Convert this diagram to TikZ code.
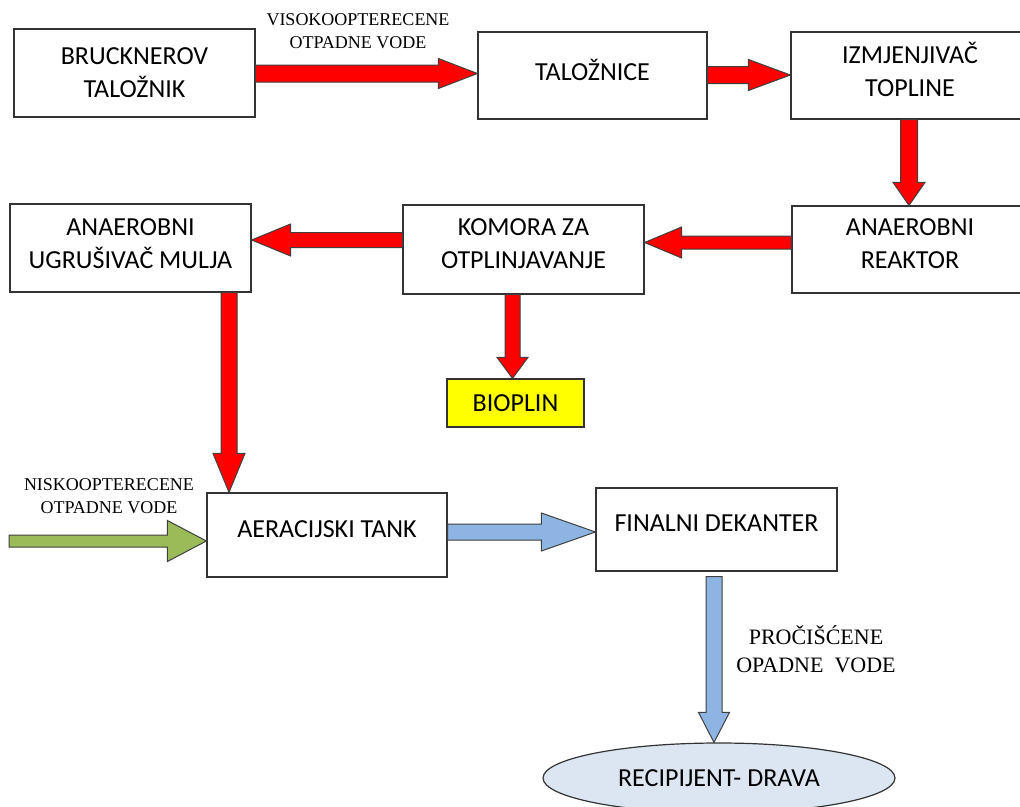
\documentclass[tikz,border=0pt]{standalone}
\usepackage{fontspec}
\setmainfont{Carlito}
\newfontfamily\seriffont{Liberation Serif}
\usetikzlibrary{calc,shapes.geometric}
\definecolor{redarrow}{HTML}{FF0000}
\definecolor{greenarrow}{HTML}{9BBB59}
\definecolor{bluearrow}{HTML}{8EB4E3}
\definecolor{recfill}{HTML}{DCE6F2}
\definecolor{biofill}{HTML}{FFFF00}
% horizontal fat arrow: from, to, y, shaft half, head half, head length (signed), fill, start offset
\newcommand\harrow[8]{%
  \coordinate (hs) at ($(#1 |- 0,#3)+(#8,0)$);
  \coordinate (ht) at (#2 |- 0,#3);
  \path[fat, fill=#7] ($(hs)+(0,#4)$) -- ($(ht)+({-(#6)},#4)$) -- ($(ht)+({-(#6)},#5)$) -- (ht)
     -- ($(ht)+({-(#6)},{-(#5)})$) -- ($(ht)+({-(#6)},{-(#4)})$) -- ($(hs)+(0,{-(#4)})$) -- cycle;
}
% vertical (downward) fat arrow: from, to, x, shaft half, head half, head length, fill, start offset
\newcommand\varrow[8]{%
  \coordinate (vs) at ($(#1 -| #3,0)+(0,{-(#8)})$);
  \coordinate (vt) at (#2 -| #3,0);
  \path[fat, fill=#7] ($(vs)+({-(#4)},0)$) -- ($(vt)+({-(#4)},#6)$) -- ($(vt)+({-(#5)},#6)$) -- (vt)
     -- ($(vt)+(#5,#6)$) -- ($(vt)+(#4,#6)$) -- ($(vs)+(#4,0)$) -- cycle;
}
\begin{document}
\begin{tikzpicture}[x=1pt,y=1pt,
  box/.style={draw=black!80, line width=1.2pt, fill=white, align=center,
    font=\fontsize{26}{33}\selectfont, inner sep=0pt},
  textup/.style={text depth=12pt},
  fat/.style={draw=black!75, line width=1pt, line join=miter},
  lbl/.style={font=\seriffont\fontsize{18}{23}\selectfont, align=center, inner sep=0pt},
]
\useasboundingbox (0,0) rectangle (1020,-806);
\clip (0,0) rectangle (1020,-806);
\fill[white] (0,0) rectangle (1020,-806);

% boxes
\node[box, minimum width=241pt, minimum height=88pt] (brk) at (134.5,-73) {BRUCKNEROV\\TALOŽNIK};
\node[box, textup, minimum width=229pt, minimum height=87pt] (tal) at (592.5,-75.5) {TALOŽNICE};
\node[box, textup, minimum width=238pt, minimum height=87pt] (izm) at (910,-75.5) {IZMJENJIVAČ\\TOPLINE};
\node[box, textup, minimum width=236pt, minimum height=87pt] (rea) at (910,-249.5) {ANAEROBNI\\REAKTOR};
\node[box, textup, minimum width=241pt, minimum height=89pt] (kom) at (523.5,-249.5) {KOMORA ZA\\OTPLINJAVANJE};
\node[box, text depth=8pt, minimum width=241pt, minimum height=88pt] (ugr) at (130.5,-248) {ANAEROBNI\\UGRUŠIVAČ MULJA};
\node[box, fill=biofill, minimum width=137pt, minimum height=48pt] (bio) at (515.5,-403) {BIOPLIN};
\node[box, textup, minimum width=240pt, minimum height=84pt] (aer) at (327,-535) {AERACIJSKI TANK};
\node[box, textup, minimum width=241pt, minimum height=83pt] (fin) at (716.5,-529.5) {FINALNI DEKANTER};
\node[box, ellipse, fill=recfill, minimum width=352pt, minimum height=70pt] (rec) at (719,-778) {RECIPIJENT- DRAVA};

% labels
\node[lbl] (vis) at (358,-31.5) {VISOKOOPTERECENE\\OTPADNE VODE};
\node[lbl] (nis) at (109,-496.5) {NISKOOPTERECENE\\OTPADNE VODE};
\node[lbl, font=\seriffont\fontsize{22}{28}\selectfont] (pro) at (816,-649) {PROČIŠĆENE\\OPADNE\ \ VODE};

% arrows
\harrow{brk.east}{tal.west}{-73.5}{8.5}{15}{39}{redarrow}{0}
\harrow{tal.east}{izm.west}{-75}{8.5}{15.5}{42}{redarrow}{0}
\varrow{izm.south}{rea.north}{909}{8.5}{16}{23}{redarrow}{0}
\harrow{rea.west}{kom.east}{-242.5}{6.5}{15.5}{-37}{redarrow}{0}
\harrow{kom.west}{ugr.east}{-240}{7.5}{16}{-39}{redarrow}{0}
\varrow{kom.south}{bio.north}{512.5}{7.5}{15.5}{21}{redarrow}{0}
\varrow{ugr.south}{aer.north}{229}{8}{16}{39}{redarrow}{0}
\coordinate (gin) at (9,-541);
\harrow{gin}{aer.west}{-541}{6}{20.5}{39}{greenarrow}{0}
\harrow{aer.east}{fin.west}{-532}{8}{19}{54}{bluearrow}{0}
\varrow{fin.south}{rec.north}{714}{8}{15.5}{30}{bluearrow}{5}
\end{tikzpicture}
\end{document}
